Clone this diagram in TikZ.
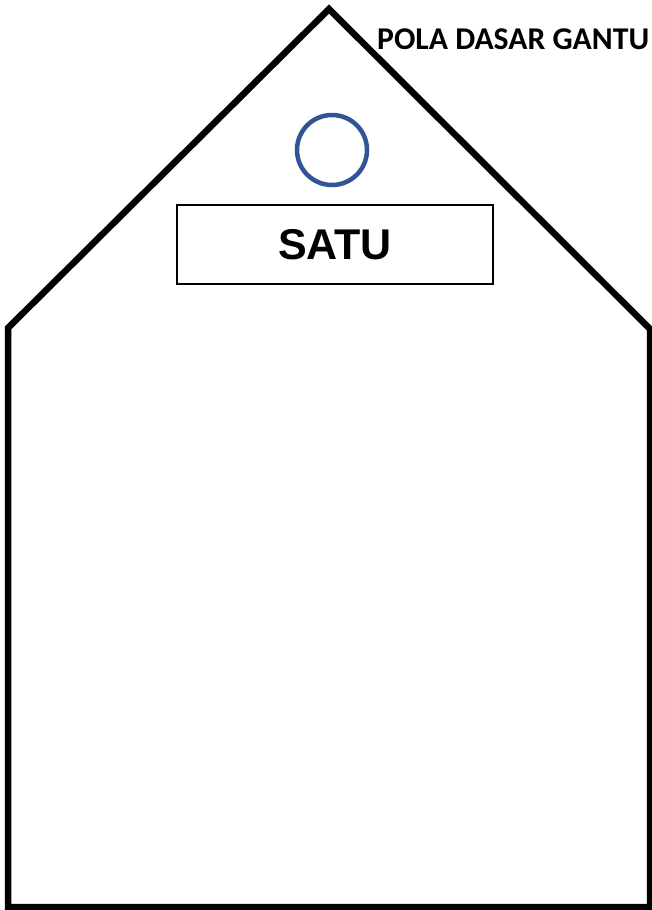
\documentclass[tikz,border=0pt]{standalone}
\usepackage{fontspec}
\setmainfont{Liberation Sans}
\newfontfamily\titlefont{Carlito}
\newfontfamily\satufont{Liberation Sans}
\definecolor{ringblue}{HTML}{2F5597}
\begin{document}
\begin{tikzpicture}[x=1pt,y=-1pt,
  outline/.style={line width=6.5pt,line join=miter},
  ring/.style={draw=ringblue,line width=4.5pt,circle,minimum size=70pt,inner sep=0pt},
  namebox/.style={draw,line width=2pt,minimum width=316pt,minimum height=79pt,inner sep=0pt},
  titletext/.style={font=\titlefont\bfseries\fontsize{31.7}{33}\selectfont,anchor=base west,inner sep=0pt}]
\useasboundingbox (0,0) rectangle (652,910);
\fill[white] (0,0) rectangle (652,910);
\coordinate (bl) at (8,907);
\coordinate (ls) at (8,328);
\coordinate (apex) at (329,9);
\coordinate (rs) at (650,329);
\coordinate (br) at (650,907);
\draw[outline] (bl) -- (ls) -- (apex) -- (rs) -- (br) -- cycle;
\node[ring] (ring) at (332,150) {};
\node[namebox] (box) at (335,244.5) {};
\node[font=\satufont\bfseries\fontsize{43}{45}\selectfont,inner sep=0pt] (satu) at (box.center) {SATU};
\node[titletext] (title) at (377,49) {POLA DASAR GANTU};
\end{tikzpicture}
\end{document}
